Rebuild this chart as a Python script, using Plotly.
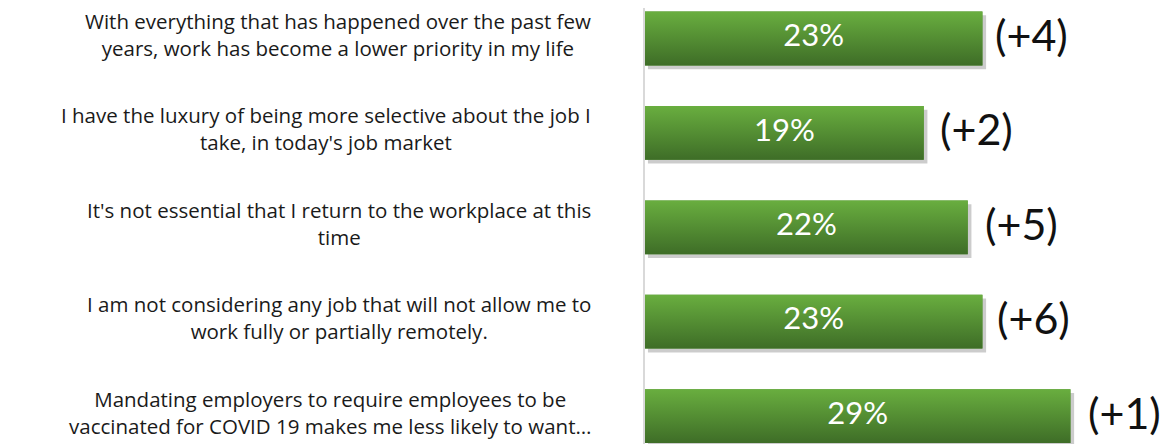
import plotly.graph_objects as go

categories = [
    "With everything that has happened over the past few<br>years, work has become a lower priority in my life",
    "I have the luxury of being more selective about the job I<br>take, in today's job market",
    "It's not essential that I return to the workplace at this<br>time",
    "I am not considering any job that will not allow me to<br>work fully or partially remotely.",
    "Mandating employers to require employees to be<br>vaccinated for COVID 19 makes me less likely to want…",
]
values = [23, 19, 22, 23, 29]
value_labels = ["23%", "19%", "22%", "23%", "29%"]
changes = ["(+4)", "(+2)", "(+5)", "(+6)", "(+1)"]

# label placement (pixels right of each bar end)
change_gap_px = [12, 15, 16, 14, 17]

LABEL_FONT = "Open Sans"
NUM_FONT = "Lato"
LIGHT = "#69ae3f"
DARK = "#3e6d27"
BAR_W = 0.57
pos = list(range(len(categories)))

fig = go.Figure()

# soft shadow
fig.add_trace(go.Bar(
    y=pos, x=[v + 0.05 for v in values], base=0.2, orientation="h",
    width=BAR_W, offset=-BAR_W / 2 + 0.04,
    marker=dict(color="rgba(0,0,0,0.20)", line=dict(width=0)),
    hoverinfo="skip", showlegend=False,
))
# main bars
fig.add_trace(go.Bar(
    y=pos, x=values, orientation="h", width=BAR_W,
    marker=dict(color="#559236", line=dict(width=0)),
    showlegend=False, hoverinfo="skip",
))
# gradient overlays
for i, v in enumerate(values):
    top, bot = i - BAR_W / 2, i + BAR_W / 2
    fig.add_trace(go.Scatter(
        x=[0, v, v, 0, 0], y=[top, top, bot, bot, top],
        mode="lines", line=dict(width=0), fill="toself",
        fillgradient=dict(type="vertical", colorscale=[[0, LIGHT], [1, DARK]],
                          start=top, stop=bot),
        hoverinfo="skip", showlegend=False,
    ))
# value labels
fig.add_trace(go.Scatter(
    x=[v / 2 for v in values], y=pos, mode="text", text=value_labels,
    textposition="middle center",
    textfont=dict(family=NUM_FONT, size=31, color="white"),
    hoverinfo="skip", showlegend=False,
))

for i, (cat, v, ch, gap) in enumerate(zip(categories, values, changes, change_gap_px)):
    fig.add_annotation(
        xref="paper", x=0, yref="y", y=i, text=cat, showarrow=False,
        xanchor="right", align="center", xshift=-53, yshift=4, borderpad=0,
        font=dict(family=LABEL_FONT, size=20.5, color="#1a1a1a"),
    )
    fig.add_annotation(
        xref="x", x=v, yref="y", y=i, text=ch, showarrow=False,
        xanchor="left", xshift=gap, yshift=4, borderpad=0,
        font=dict(family=NUM_FONT, size=43, color="#111111"),
    )

fig.update_layout(
    width=1170, height=444,
    margin=dict(l=637, r=0, t=0, b=0),
    paper_bgcolor="white", plot_bgcolor="white",
    barmode="overlay",
    xaxis=dict(range=[0, 36.33], showgrid=False, zeroline=False,
               showticklabels=False, ticks=""),
    yaxis=dict(range=[4.380, -0.323], showgrid=False, zeroline=False,
               showticklabels=False, ticks="", showline=True,
               linecolor="#d9d9d9", linewidth=2),
)

fig.write_html("out.html")
